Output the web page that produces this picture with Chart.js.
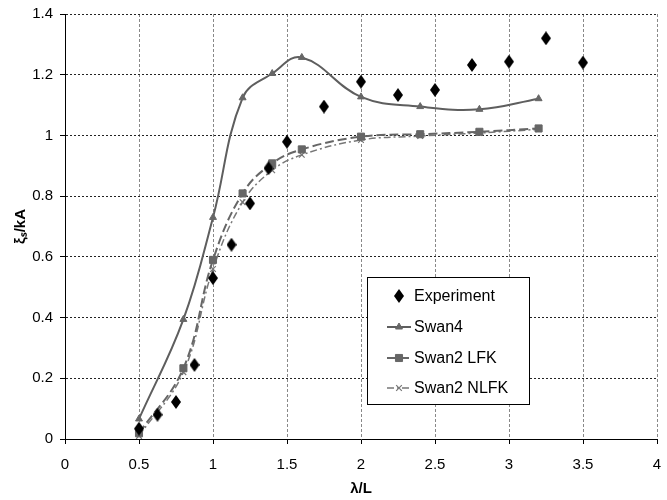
<!DOCTYPE html>
<html>
<head>
<meta charset="utf-8">
<script src="https://cdn.jsdelivr.net/npm/chart.js@4"></script>
<style>
    html, body { margin: 0; padding: 0; background: #fff; }
    #wrap { width: 667px; height: 500px; }
</style>
</head>
<body>
<div id="wrap"><canvas id="chart" width="667" height="500"></canvas></div>
<script>
// 실험값 (λ/L, ξs/kA)
const expX = [0.5, 0.625, 0.75, 0.875, 1.0, 1.125, 1.25, 1.375, 1.5, 1.75, 2.0, 2.25, 2.5, 2.75, 3.0, 3.25, 3.5];
const expY = [0.034, 0.08, 0.122, 0.244, 0.53, 0.64, 0.776, 0.892, 0.979, 1.095, 1.177, 1.133, 1.15, 1.232, 1.243, 1.32, 1.24];

// 계산값 공통 x
const calcX = [0.5, 0.8, 1.0, 1.2, 1.4, 1.6, 2.0, 2.4, 2.8, 3.2];
const swan4Y = [0.066, 0.394, 0.73, 1.124, 1.204, 1.257, 1.127, 1.095, 1.086, 1.121];
const lfkY = [0.019, 0.233, 0.59, 0.809, 0.908, 0.954, 0.996, 1.004, 1.012, 1.023];
const nlfkY = [0.01, 0.22, 0.56, 0.78, 0.885, 0.936, 0.985, 0.998, 1.008, 1.02];

const seriesNames = ['Experiment', 'Swan4', 'Swan2 LFK', 'Swan2 NLFK'];
const xTitle = 'λ/L';
const yTitle = 'ξₛ/kA';

const FONT = '"Liberation Sans", Arial, sans-serif';

/**
 * 세로로 긴 다이아몬드 마커
 */
const makeDiamond = (w, h, color) => {
    const c = document.createElement('canvas');
    c.width = w;
    c.height = h;
    const g = c.getContext('2d');
    g.fillStyle = color;
    g.beginPath();
    g.moveTo(w / 2, 0);
    g.lineTo(w, h / 2);
    g.lineTo(w / 2, h);
    g.lineTo(0, h / 2);
    g.closePath();
    g.fill();
    return c;
};
const diamond = makeDiamond(10, 14, '#000');

const toPoints = (xs, ys) => xs.map((x, i) => ({ x, y: ys[i] }));

/**
 * 차트 안쪽 범례
 */
const boxLegend = {
    id: 'boxLegend',
    afterDraw(chart) {
        const ctx = chart.ctx;
        const left = 367, top = 277, w = 162, h = 127;
        ctx.save();
        ctx.fillStyle = '#fff';
        ctx.fillRect(left, top, w, h);
        ctx.strokeStyle = '#000';
        ctx.lineWidth = 1;
        ctx.strokeRect(left + 0.5, top + 0.5, w, h);

        const rows = [296, 327, 358, 388];
        const x1 = 387, x2 = 411, xm = 399;
        ctx.font = '16px ' + FONT;
        ctx.textBaseline = 'middle';
        ctx.textAlign = 'left';

        chart.data.datasets.forEach((ds, i) => {
            const y = rows[i];
            if (ds.showLine) {
                ctx.beginPath();
                ctx.strokeStyle = ds.borderColor;
                ctx.lineWidth = ds.borderWidth;
                ctx.setLineDash(ds.borderDash || []);
                ctx.moveTo(x1, y);
                ctx.lineTo(x2, y);
                ctx.stroke();
                ctx.setLineDash([]);
            }
            const style = ds.pointStyle;
            if (style instanceof HTMLCanvasElement) {
                ctx.drawImage(style, xm - style.width / 2, y - style.height / 2);
            } else {
                ctx.fillStyle = ds.pointBackgroundColor;
                ctx.strokeStyle = ds.pointBorderColor;
                ctx.lineWidth = ds.pointBorderWidth;
                Chart.helpers.drawPoint(ctx, {
                    pointStyle: style,
                    radius: ds.pointRadius,
                    borderWidth: ds.pointBorderWidth,
                    rotation: 0
                }, xm, y);
            }
            ctx.fillStyle = '#000';
            ctx.fillText(ds.label, 414, y + 1);
        });
        ctx.restore();
    }
};

const chart = new Chart(document.getElementById('chart'), {
    type: 'scatter',
    data: {
        datasets: [
            {
                label: seriesNames[0],
                data: toPoints(expX, expY),
                showLine: false,
                pointStyle: diamond,
                pointRadius: 7
            },
            {
                label: seriesNames[1],
                data: toPoints(calcX, swan4Y),
                showLine: true,
                borderColor: '#5e5e5e',
                borderWidth: 2,
                tension: 0.4,
                pointStyle: 'triangle',
                pointRadius: 4,
                pointBackgroundColor: '#666',
                pointBorderColor: '#666',
                pointBorderWidth: 1
            },
            {
                label: seriesNames[2],
                data: toPoints(calcX, lfkY),
                showLine: true,
                borderColor: '#666',
                borderWidth: 2,
                borderDash: [9, 4],
                tension: 0.4,
                pointStyle: 'rect',
                pointRadius: 5,
                pointBackgroundColor: '#666',
                pointBorderColor: '#666',
                pointBorderWidth: 1
            },
            {
                label: seriesNames[3],
                data: toPoints(calcX, nlfkY),
                showLine: true,
                borderColor: '#777',
                borderWidth: 1.5,
                borderDash: [7, 3, 2, 3],
                tension: 0.4,
                pointStyle: 'crossRot',
                pointRadius: 4,
                pointBackgroundColor: '#777',
                pointBorderColor: '#777',
                pointBorderWidth: 1.2
            }
        ]
    },
    options: {
        responsive: false,
        animation: false,
        devicePixelRatio: 1,
        layout: {
            autoPadding: false,
            padding: { top: 14, right: 10, left: 0, bottom: 0 }
        },
        plugins: {
            legend: { display: false },
            tooltip: { enabled: false }
        },
        scales: {
            x: {
                type: 'linear',
                min: 0,
                max: 4,
                afterFit: (s) => {
                    s.height = 61;
                    s.paddingLeft = 0;
                    s.paddingRight = 4;
                },
                ticks: {
                    stepSize: 0.5,
                    color: '#000',
                    padding: 12,
                    font: { family: FONT, size: 15 },
                    callback: (v) => String(+v.toFixed(1))
                },
                grid: {
                    color: '#888',
                    tickColor: '#000',
                    tickLength: 5,
                    tickBorderDash: []
                },
                border: { color: '#000', width: 1, dash: [3, 2] },
                title: {
                    display: true,
                    text: xTitle,
                    color: '#000',
                    font: { family: FONT, size: 15, weight: 'bold' },
                    padding: { top: 0, bottom: 2 }
                }
            },
            y: {
                min: 0,
                max: 1.4,
                afterFit: (s) => {
                    s.width = 65;
                    s.paddingTop = 0;
                    s.paddingBottom = 0;
                },
                ticks: {
                    stepSize: 0.2,
                    color: '#000',
                    padding: 7,
                    font: { family: FONT, size: 15 },
                    callback: (v) => String(+v.toFixed(1))
                },
                grid: {
                    color: '#222',
                    tickColor: '#000',
                    tickLength: 5,
                    tickBorderDash: []
                },
                border: { color: '#000', width: 1, dash: [2, 2] },
                title: {
                    display: true,
                    text: yTitle,
                    color: '#000',
                    font: { family: FONT, size: 15, weight: 'bold' },
                    padding: { top: 12, bottom: 0 }
                }
            }
        }
    },
    plugins: [boxLegend]
});
</script>
</body>
</html>
